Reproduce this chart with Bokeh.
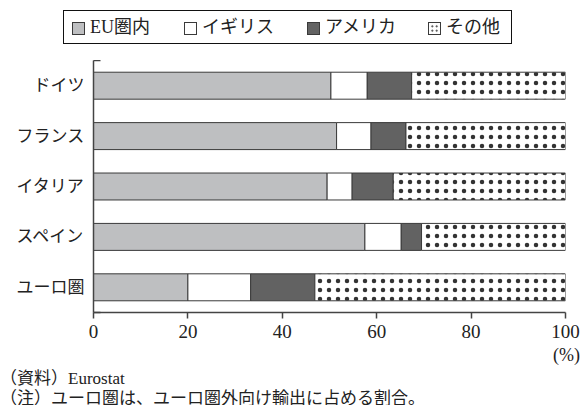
from bokeh.plotting import figure
from bokeh.layouts import column
from bokeh.models import ColumnDataSource, Range1d, LinearAxis, FixedTicker, Div
from bokeh.transform import stack
from bokeh.embed import file_html
from bokeh.resources import INLINE

# Export destination shares (%), by exporter
categories = ["ドイツ", "フランス", "イタリア", "スペイン", "ユーロ圏"]
eu = [50.3, 51.5, 49.5, 57.5, 20.0]
uk = [7.7, 7.3, 5.3, 7.7, 13.3]
us = [9.4, 7.4, 8.7, 4.3, 13.6]
other = [32.6, 33.8, 36.5, 30.5, 53.1]
series_names = ["EU圏内", "イギリス", "アメリカ", "その他"]
x_ticks = [0, 20, 40, 60, 80, 100]
unit_text = "(%)"
source_text = "（資料）Eurostat"
note_text = "（注）ユーロ圏は、ユーロ圏外向け輸出に占める割合。"

FONT = "'Liberation Serif', 'Noto Sans CJK JP'"
INK = "#222222"
AXIS = "#444444"
EDGE = "#3a3a3a"

keys = ["eu", "uk", "us", "other"]
fills = ["#bebfc1", "#ffffff", "#626262", "#ffffff"]

# one band per exporter, first one at the top
n = len(categories)
rows = [n - i - 0.5 for i in range(n)]

source = ColumnDataSource(dict(row=rows, eu=eu, uk=uk, us=us, other=other))

p = figure(width=582, height=287, output_backend="svg", toolbar_location=None,
           x_range=Range1d(0, 100), y_range=Range1d(0, n),
           x_axis_location=None, y_axis_location=None,
           min_border_left=93, min_border_right=17,
           min_border_top=0, min_border_bottom=35)
p.outline_line_color = None
p.xgrid.visible = False
p.ygrid.visible = False
p.background_fill_color = "white"
p.border_fill_color = "white"

for i, key in enumerate(keys):
    hatch = dict(hatch_pattern=".", hatch_color="#333333", hatch_scale=9,
                 hatch_weight=0.6) if key == "other" else {}
    p.hbar(y="row", height=0.535,
           left=stack(*keys[:i]) if i else 0, right=stack(*keys[:i + 1]),
           source=source, fill_color=fills[i], line_color=EDGE,
           line_width=1, **hatch)

# x axis
xaxis = LinearAxis(ticker=FixedTicker(ticks=x_ticks),
                   major_tick_out=6, major_tick_in=0,
                   minor_tick_line_color=None,
                   axis_line_color=AXIS, axis_line_width=1.5,
                   major_tick_line_color=AXIS, major_tick_line_width=1.5,
                   major_label_standoff=6,
                   major_label_text_font=FONT,
                   major_label_text_font_size="19px",
                   major_label_text_color=INK)
p.add_layout(xaxis, "below")

# y axis: names at band centres, short inward ticks at the two ends
yaxis = LinearAxis(ticker=FixedTicker(ticks=rows, minor_ticks=[0, n]),
                   major_label_overrides={r: c for r, c in zip(rows, categories)},
                   major_tick_in=0, major_tick_out=0,
                   minor_tick_in=7, minor_tick_out=0,
                   minor_tick_line_color=AXIS, minor_tick_line_width=1.5,
                   axis_line_color=AXIS, axis_line_width=1.5,
                   major_label_standoff=9,
                   major_label_text_font=FONT,
                   major_label_text_font_size="17px",
                   major_label_text_color=INK)
p.add_layout(yaxis, "left")

# key above the chart: one swatch + name per series
swatch_fill = {
    "eu": f"background:{fills[0]}",
    "uk": f"background:{fills[1]}",
    "us": f"background:{fills[2]}",
    "other": ("background:#ffffff radial-gradient(circle, #333 0.8px, "
              "transparent 1.1px) 1px 1px/4.5px 4.5px"),
}
item_left = [8, 120, 243, 364]
items_html = ""
for key, name, left in zip(keys, series_names, item_left):
    items_html += (
        f'<div style="position:absolute;left:{left}px;top:0;height:34px;'
        f'display:flex;align-items:center;white-space:nowrap">'
        f'<span style="display:inline-block;width:13px;height:13px;'
        f'box-sizing:border-box;border:1px solid {EDGE};{swatch_fill[key]}">'
        f'</span><span style="margin-left:5px">{name}</span></div>')
key_div = Div(width=582, height=60, margin=(0, 0, 0, 0),
              styles={"font-family": FONT, "color": INK, "font-size": "18px"},
              text=(f'<div style="position:relative;width:582px;height:60px">'
                    f'<div style="position:absolute;left:63px;top:10px;'
                    f'width:449px;height:34px;border:1px solid #111;'
                    f'box-sizing:border-box;background:#fff">{items_html}'
                    f'</div></div>'))

# unit and source notes under the chart
notes = Div(width=582, height=58, margin=(0, 0, 0, 0),
            styles={"font-family": FONT, "color": INK},
            text=(f'<div style="font-size:18px;line-height:17px;text-align:right;'
                  f'width:580px">{unit_text}</div>'
                  f'<div style="font-size:17px;line-height:20px;margin-top:5px">'
                  f'{source_text}</div>'
                  f'<div style="font-size:17px;line-height:20px">{note_text}</div>'))

layout = column(key_div, p, notes, spacing=0)
open("out.html", "w").write(file_html(layout, INLINE))
